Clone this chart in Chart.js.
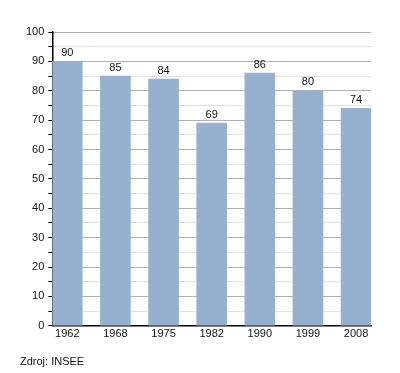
<!DOCTYPE html>
<html>
<head>
<meta charset="utf-8">
<script src="https://cdn.jsdelivr.net/npm/chart.js@4"></script>
<style>
  body { margin: 0; background: #fff; }
  #wrap { position: relative; width: 400px; height: 373px; }
  #source { position: absolute; left: 20px; top: 355px; font: 11px "Liberation Sans", Arial, sans-serif; color: #111; }
</style>
</head>
<body>
<div id="wrap">
  <canvas id="demo" width="400" height="373"></canvas>
  <div id="source">Zdroj: INSEE</div>
</div>
<script>
const years = ["1962", "1968", "1975", "1982", "1990", "1999", "2008"];
const values = [90, 85, 84, 69, 86, 80, 74];
const yTicks = [0, 10, 20, 30, 40, 50, 60, 70, 80, 90, 100];

const font = { family: "'Liberation Sans', Arial, sans-serif", size: 11 };

// value labels above bars
const barLabels = {
  id: "barLabels",
  afterDatasetsDraw(chart) {
    const ctx = chart.ctx;
    const meta = chart.getDatasetMeta(0);
    ctx.save();
    ctx.font = "11px 'Liberation Sans', Arial, sans-serif";
    ctx.fillStyle = "#111";
    ctx.textAlign = "center";
    ctx.textBaseline = "bottom";
    meta.data.forEach((bar, i) => {
      ctx.fillText(values[i], bar.x, bar.y - 3);
    });
    ctx.restore();
  },
};

const ctx = document.getElementById("demo").getContext("2d");
new Chart(ctx, {
  type: "bar",
  data: {
    datasets: [
      {
        data: values.map((v, i) => ({ x: i, y: v })),
        backgroundColor: "#95b1cf",
        barThickness: 30,
      },
    ],
  },
  options: {
    responsive: false,
    animation: false,
    layout: { padding: { left: 22, right: 29, top: 32, bottom: 30 } },
    plugins: { legend: { display: false }, tooltip: { enabled: false } },
    scales: {
      x: {
        type: "linear",
        offset: false,
        min: -0.31,
        max: 6.31,
        afterBuildTicks: (axis) => {
          axis.ticks = years.map((y, i) => ({ value: i }));
        },
        ticks: {
          color: "#111",
          font: font,
          padding: 2,
          callback: (v) => years[v],
        },
        grid: { display: false, drawTicks: false },
        border: { color: "#000", width: 1.5 },
      },
      y: {
        min: 0,
        max: 100,
        ticks: {
          stepSize: 5,
          autoSkip: false,
          color: "#111",
          font: font,
          padding: 4,
          callback: (v) => (yTicks.includes(v) ? v : ""),
        },
        grid: {
          color: (c) => (c.tick && c.tick.value % 10 === 0 ? "#b0b0b0" : "#e2e2e2"),
          tickColor: "#000",
          tickLength: 4,
        },
        border: { color: "#000", width: 1.5 },
      },
    },
  },
  plugins: [barLabels],
});
</script>
</body>
</html>
